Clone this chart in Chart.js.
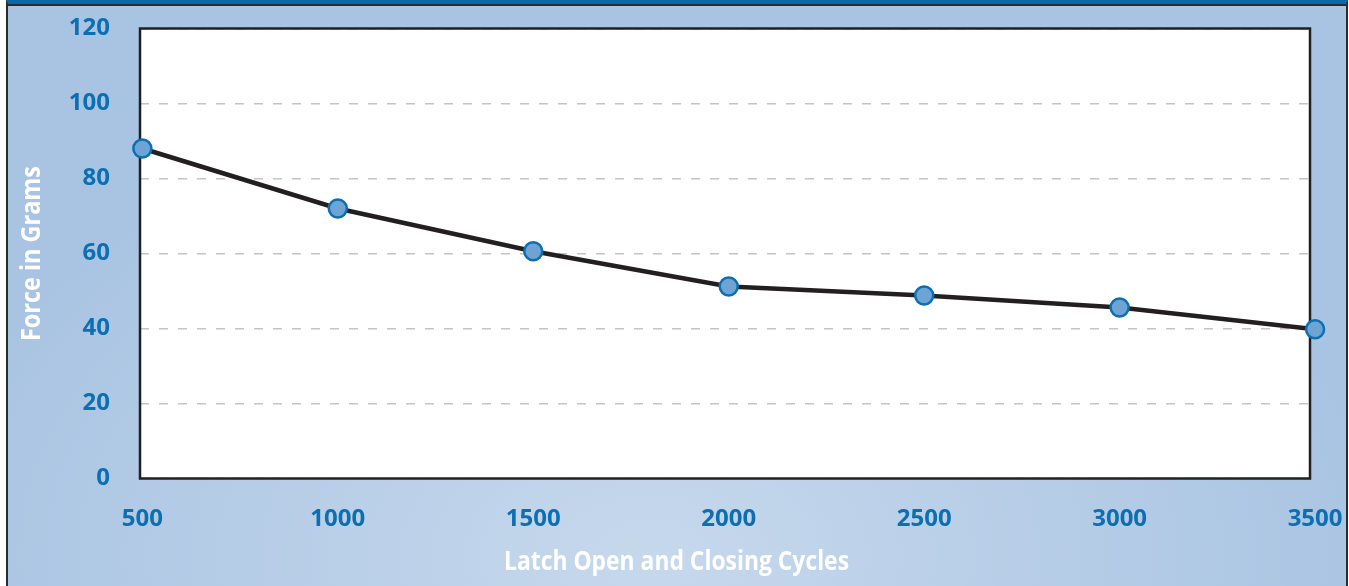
<!DOCTYPE html>
<html><head><meta charset="utf-8">
<script src="https://cdn.jsdelivr.net/npm/chart.js@4.4.1/dist/chart.umd.min.js"></script>
<style>
html,body{margin:0;padding:0;background:#fff;width:1349px;height:586px;overflow:hidden;}
#frame{position:absolute;left:6px;top:0;width:1342px;height:586px;box-sizing:border-box;border-left:2px solid #2b2b2b;border-right:2px solid #2b2b2b;border-top:4px solid #0a69aa;box-shadow:inset 0 2px 0 #2b2b2b;background:radial-gradient(ellipse 55% 80% at 48% 95%, #c6d8ec 0%, #b9cfe8 45%, #a9c4e2 100%);}
#c{position:absolute;left:0;top:0;}
</style></head><body>
<div id="frame"></div>
<canvas id="c" width="1349" height="586"></canvas>
<script>
const cycles = [500, 1000, 1500, 2000, 2500, 3000, 3500];
const forceGrams = [88, 72, 60.6, 51.2, 48.8, 45.6, 39.8];
const yTickValues = [0, 20, 40, 60, 80, 100, 120];
const xTitle = 'Latch Open and Closing Cycles';
const yTitle = 'Force in Grams';

const tickFont = {family: "'Open Sans', sans-serif", size: 24, weight: 'bold'};
const titleFont = "bold 26px 'Open Sans', sans-serif";
const tickColor = '#0b6fb1';

function drawCondensed(ctx, text, x, y, width, rotate) {
  ctx.save();
  ctx.font = titleFont;
  ctx.fillStyle = '#ffffff';
  ctx.textAlign = 'center';
  ctx.textBaseline = 'middle';
  const w = ctx.measureText(text).width;
  ctx.translate(x, y);
  if (rotate) ctx.rotate(-Math.PI / 2);
  ctx.scale(width / w, 1);
  ctx.fillText(text, 0, 0);
  ctx.restore();
}

const plotFrame = {
  id: 'plotFrame',
  beforeDraw(chart) {
    const {ctx, chartArea: a} = chart;
    ctx.save();
    ctx.fillStyle = '#ffffff';
    ctx.fillRect(a.left, a.top, a.right - a.left, a.bottom - a.top);
    ctx.restore();
  },
  beforeDatasetsDraw(chart) {
    const {ctx, chartArea: a} = chart;
    ctx.save();
    ctx.strokeStyle = '#231f20';
    ctx.lineWidth = 2.5;
    ctx.strokeRect(a.left, a.top, a.right - a.left, a.bottom - a.top);
    ctx.restore();
  },
  afterDraw(chart) {
    const {ctx, chartArea: a} = chart;
    drawCondensed(ctx, xTitle, chart.width / 2 + 2, 563, 345, false);
    drawCondensed(ctx, yTitle, 33, (a.top + a.bottom) / 2, 175, true);
  }
};

function noPad(s) { s.paddingTop = 0; s.paddingBottom = 0; s.paddingLeft = 0; s.paddingRight = 0; }

new Chart(document.getElementById('c'), {
  type: 'line',
  data: {
    datasets: [{
      data: cycles.map((x, i) => ({x: x, y: forceGrams[i]})),
      borderColor: '#231f20',
      borderWidth: 4.5,
      tension: 0,
      pointRadius: 9,
      pointBackgroundColor: '#6ea4d4',
      pointBorderColor: '#0b6fb1',
      pointBorderWidth: 2.5,
      clip: false
    }]
  },
  options: {
    responsive: false,
    animation: false,
    devicePixelRatio: 1,
    layout: {padding: {top: 28.5, right: 39, left: 0, bottom: 0}},
    plugins: {legend: {display: false}, tooltip: {enabled: false}},
    scales: {
      x: {
        type: 'linear',
        min: 494,
        max: 3487,
        afterBuildTicks: s => { s.ticks = cycles.map(v => ({value: v})); },
        afterFit: s => { s.height = 107.5; noPad(s); },
        grid: {display: false, drawTicks: false},
        border: {display: false},
        ticks: {autoSkip: false, maxRotation: 0, font: tickFont, color: tickColor, padding: 26, callback: v => String(v)}
      },
      y: {
        min: 0,
        max: 120,
        afterBuildTicks: s => { s.ticks = yTickValues.map(v => ({value: v})); },
        afterFit: s => { s.width = 140; noPad(s); },
        grid: {color: '#c4c4c4', lineWidth: 1.5, drawTicks: false},
        border: {display: false, dash: [9, 10]},
        ticks: {font: tickFont, color: tickColor, padding: 30, callback: v => String(v)}
      }
    }
  },
  plugins: [plotFrame]
});
</script>
</body></html>
